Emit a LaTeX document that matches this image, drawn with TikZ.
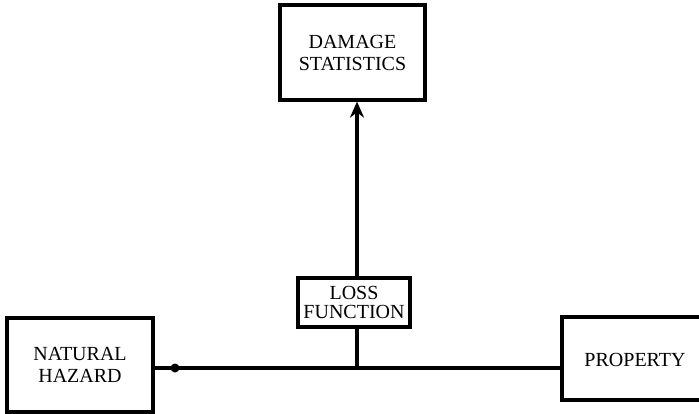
\documentclass[tikz,border=0pt]{standalone}
\usepackage{fontspec}
\setmainfont{Liberation Serif}
\usetikzlibrary{arrows.meta}
\begin{document}
\begin{tikzpicture}[x=1pt,y=-1pt,
  box/.style={draw, line width=3.2pt, rectangle, inner sep=0pt, align=center,
    font=\fontsize{20}{22}\selectfont},
  conn/.style={line width=3.2pt}]
\useasboundingbox (0,0) rectangle (699,414);
\clip (0,0) rectangle (699,414);
\node[box, minimum width=145, minimum height=95] (dmg) at (352.5,52.5) {DAMAGE\\STATISTICS};
\node[box, minimum width=112, minimum height=49, font=\fontsize{20}{19.5}\selectfont] (loss) at (354,302.5) {LOSS\\FUNCTION};
\node[box, minimum width=146, minimum height=94] (haz) at (80,365) {NATURAL\\HAZARD};
\node[box, minimum width=168, minimum height=83,
  label={[font=\fontsize{20}{22}\selectfont, xshift=-11pt, yshift=-1pt]center:PROPERTY}] (prop) at (646,358.5) {};
\coordinate (j) at (357,368);
\coordinate (d) at (175,368);
\draw[conn] (haz.east |- j) -- (prop.west |- j);
\draw[conn] (loss.south -| j) -- (j);
\draw[conn, -{Stealth[length=16pt,width=14pt]}] (loss.north -| j) -- (dmg.south -| j);
\fill (d) circle (4.5pt);
\end{tikzpicture}
\end{document}
